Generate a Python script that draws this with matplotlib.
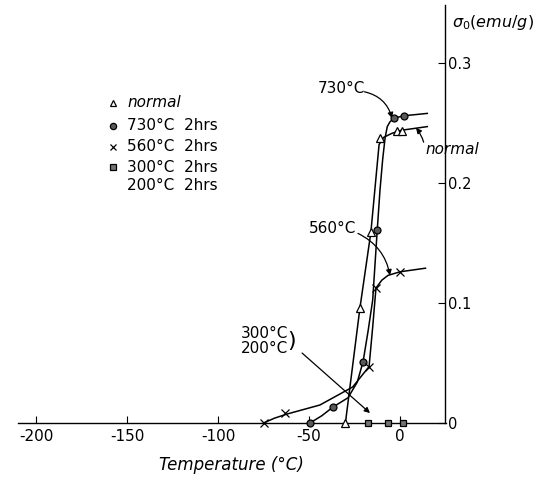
import matplotlib.pyplot as plt

# ---- data (temperature in degC, sigma_0 in emu/g) ----
normal_T = [-30, -22, -16, -11, -1.5, 1]
normal_s = [0, 0.096, 0.159, 0.2375, 0.243, 0.243]
normal_curve_T = [-30, -22, -16, -11.5, -9, -5, -1.5, 1, 15]
normal_curve_s = [0, 0.096, 0.159, 0.232, 0.238, 0.241, 0.243, 0.244, 0.247]

t730_T = [-49.5, -37, -20.5, -12.5, -3.3, 2]
t730_s = [0, 0.0133, 0.051, 0.161, 0.254, 0.256]
t730_curve_T = [-49.5, -43, -36.8, -28.6, -23.5, -20.3, -17.5, -15, -12.5, -11, -9.5, -8.2, -7, -5.5, -3.3, 2, 15]
t730_curve_s = [0, 0.006, 0.0133, 0.021, 0.034, 0.051, 0.077, 0.1025, 0.161, 0.194, 0.22, 0.2375, 0.247, 0.251, 0.254, 0.256, 0.258]

t560_T = [-75, -63, -17, -13.2, 0]
t560_s = [0, 0.008, 0.047, 0.1125, 0.126]
t560_curve_T = [-75, -69, -62, -44, -26, -17, -15, -13.2, -10, -6.6, 0, 14]
t560_curve_s = [0, 0.004, 0.0075, 0.015, 0.030, 0.047, 0.08, 0.1125, 0.119, 0.123, 0.126, 0.129]

t300_T = [-17.5, -6.5, 1.5]
t300_s = [0, 0, 0]

xticks = [-200, -150, -100, -50, 0]
xtick_labels = ["-200", "-150", "-100", "-50", "0"]
yticks = [0, 0.1, 0.2, 0.3]
ytick_labels = ["0", "0.1", "0.2", "0.3"]

legend_labels = ["normal", "730°C  2hrs", "560°C  2hrs", "300°C  2hrs", "200°C  2hrs"]
legend_rows = [0.2667, 0.2475, 0.23, 0.2133, 0.1975]

plt.rcParams['font.family'] = ['DejaVu Sans']
plt.rcParams['mathtext.fontset'] = 'dejavusans'

fig = plt.figure(figsize=(5.38, 4.8), dpi=100)
ax = fig.add_axes([17.8 / 538, 57 / 480, 427.7 / 538, 417.6 / 480])
ax.set_xlim(-210, 25)
ax.set_ylim(0, 0.348)

for side in ['top', 'left']:
    ax.spines[side].set_visible(False)
for side in ['right', 'bottom']:
    ax.spines[side].set_linewidth(1.0)

ax.yaxis.tick_right()
ax.set_yticks(yticks)
ax.set_yticklabels(ytick_labels)
ax.set_xticks(xticks)
ax.set_xticklabels(xtick_labels)
ax.tick_params(axis='y', direction='in', length=5, pad=2, labelsize=10.5)
ax.tick_params(axis='x', direction='in', length=5, pad=4, labelsize=11)

ax.set_xlabel('Temperature (°C)', fontsize=12, style='italic', labelpad=9)

# curves
lw = 1.1
ax.plot(normal_curve_T, normal_curve_s, color='k', lw=lw)
ax.plot(t730_curve_T, t730_curve_s, color='k', lw=lw)
ax.plot(t560_curve_T, t560_curve_s, color='k', lw=lw)

# markers
ax.plot(normal_T, normal_s, ls='none', marker='^', ms=6, mfc='white', mec='k', mew=0.9, zorder=5, clip_on=False)
ax.plot(t730_T, t730_s, ls='none', marker='o', ms=5, mfc='0.35', mec='k', mew=0.9, zorder=5, clip_on=False)
ax.plot(t560_T, t560_s, ls='none', marker='x', ms=6, mec='k', mew=0.9, zorder=5, clip_on=False)
ax.plot(t300_T, t300_s, ls='none', marker='s', ms=5, mfc='0.45', mec='k', mew=0.9, zorder=5, clip_on=False)

# legend drawn by hand
leg_x = -157.7
ax.plot(leg_x, legend_rows[0], marker='^', ms=5, mfc='white', mec='k', mew=0.9)
ax.plot(leg_x, legend_rows[1], marker='o', ms=4.5, mfc='0.35', mec='k', mew=0.9)
ax.plot(leg_x, legend_rows[2], marker='x', ms=5, mec='k', mew=0.9)
ax.plot(leg_x, legend_rows[3], marker='s', ms=4.5, mfc='0.45', mec='k', mew=0.9)
for i, lab in enumerate(legend_labels):
    ax.text(-150, legend_rows[i], lab, fontsize=11, va='center', ha='left',
            style='italic' if i == 0 else 'normal')

arrow = dict(arrowstyle='-|>', color='k', lw=0.9, shrinkA=0, shrinkB=0, mutation_scale=8)

# annotations
ax.text(-32.4, 0.279, '730°C', fontsize=11, ha='center', va='center')
ax.annotate('', xy=(-4.4, 0.254), xytext=(-19.5, 0.276),
            arrowprops=dict(arrow, connectionstyle='arc3,rad=-0.3'))
ax.text(29, 0.2275, 'normal', fontsize=11, ha='center', va='center', style='italic')
ax.annotate('', xy=(8.8, 0.246), xytext=(13, 0.234), annotation_clip=False,
            arrowprops=dict(arrow, connectionstyle='arc3,rad=0.1'))
ax.text(-36.8, 0.1617, '560°C', fontsize=11, ha='center', va='center')
ax.annotate('', xy=(-5.5, 0.123), xytext=(-23.1, 0.158),
            arrowprops=dict(arrow, connectionstyle='arc3,rad=-0.25'))
ax.text(-74.5, 0.068, '300°C\n200°C', fontsize=11, ha='center', va='center', linespacing=1.0)
ax.text(-59.5, 0.068, ')', fontsize=16, ha='center', va='center')
ax.annotate('', xy=(-16.5, 0.0083), xytext=(-53.8, 0.0583), arrowprops=arrow)

ax.text(28.6, 0.334, r'$\sigma_0(emu/g)$', fontsize=11.5, ha='left', va='center')

fig.savefig('out.png', dpi=100)
